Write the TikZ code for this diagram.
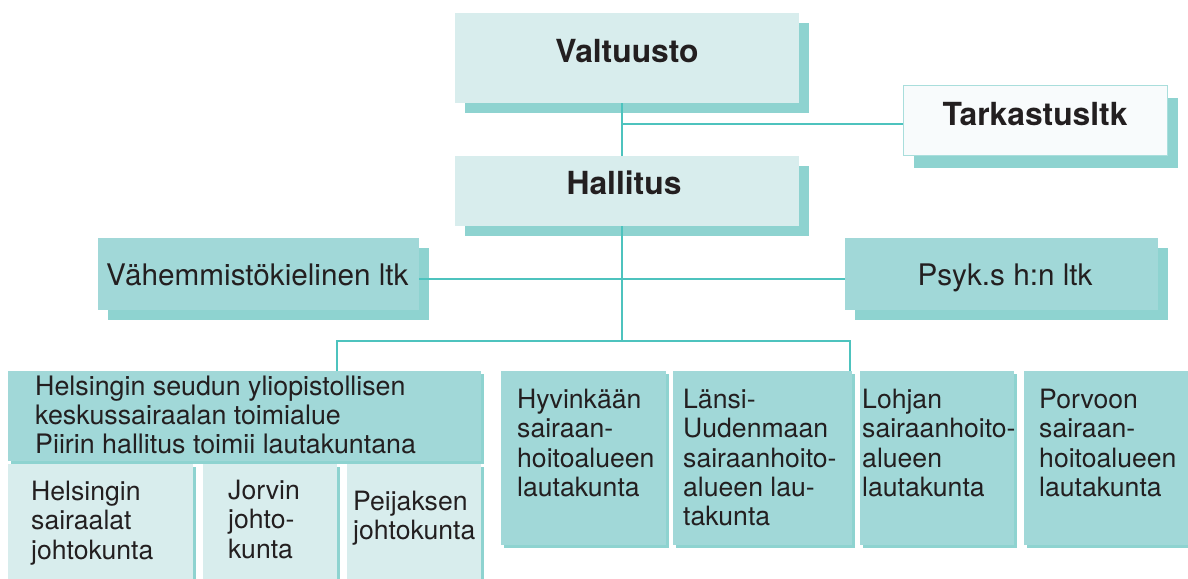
\documentclass[tikz,border=0pt]{standalone}
\usepackage{fontspec}
\setmainfont{TeX Gyre Heros}
\usetikzlibrary{shadows}
\definecolor{lightfill}{HTML}{D8EDED}
\definecolor{darkfill}{HTML}{A1D8D8}
\definecolor{shadowc}{HTML}{8ED3D0}
\definecolor{linec}{HTML}{4DC3BE}
\definecolor{tarkfill}{HTML}{F8FBFC}
\definecolor{tarkborder}{HTML}{A9DEDC}
\definecolor{textc}{HTML}{231F20}
\begin{document}
\begin{tikzpicture}[x=1pt,y=-1pt,
  bx/.style 2 args={rectangle,anchor=north west,inner sep=0pt,outer sep=0pt,
    minimum width=#1,minimum height=#2},
  bigshadow/.style={drop shadow={shadow xshift=10pt,shadow yshift=-10pt,fill=shadowc,opacity=1}},
  smallshadow/.style={drop shadow={shadow xshift=2.5pt,shadow yshift=-2.5pt,fill=shadowc,opacity=1}},
  lightbox/.style={fill=lightfill},
  darkbox/.style={fill=darkfill},
  conn/.style={draw=linec,line width=1.3pt},
  boldlbl/.style={inner sep=0pt,text=textc,font=\fontsize{31.8}{36}\selectfont\bfseries},
  midlbl/.style={inner sep=0pt,text=textc,font=\fontsize{29.7}{34}\selectfont},
  smalllbl/.style={inner sep=0pt,text=textc,anchor=north west,align=left,font=\fontsize{26.6}{29.3}\selectfont}
]
\useasboundingbox (0,0) rectangle (1188,578);

% top boxes
\node[bx={344pt}{90pt},lightbox,bigshadow] (valt) at (455,13) {};
\node[bx={344pt}{70pt},lightbox,bigshadow] (hall) at (455,156) {};
\node[bx={264pt}{70pt},fill=tarkfill,draw=tarkborder,line width=1pt,
  drop shadow={shadow xshift=11pt,shadow yshift=-13pt,fill=shadowc,opacity=1}] (tark) at (903,85) {};
\node[bx={321pt}{72pt},darkbox,bigshadow] (vah) at (98,238) {};
\node[bx={313pt}{72pt},darkbox,bigshadow] (psyk) at (845,238) {};

% bottom row
\node[bx={473pt}{90pt},darkbox,smallshadow] (hels) at (8,371) {};
\node[bx={185pt}{115pt},lightbox,smallshadow] (hsair) at (8,464) {};
\node[bx={134pt}{115pt},lightbox,smallshadow] (jorvi) at (203,464) {};
\node[bx={134pt}{115pt},lightbox,smallshadow] (peija) at (347,464) {};
\node[bx={165pt}{174pt},darkbox,smallshadow] (hyvi) at (501,371) {};
\node[bx={179pt}{174pt},darkbox,smallshadow] (lansi) at (673,371) {};
\node[bx={154pt}{174pt},darkbox,smallshadow] (lohja) at (860,371) {};
\node[bx={170pt}{174pt},darkbox,smallshadow] (porvo) at (1024,371) {};

% labels
\node[boldlbl,anchor=base] (tvalt) at (627,63) {Valtuusto};
\node[boldlbl,anchor=base] (thall) at (624,194) {Hallitus};
\node[boldlbl,anchor=base] (ttark) at (1035,125) {Tarkastusltk};
\node[midlbl,anchor=base west] (tvah) at (106,285) {Vähemmistökielinen ltk};
\node[midlbl,anchor=base] (tpsyk) at (1005,285) {Psyk.s h:n ltk};

\node[smalllbl,font=\fontsize{26.8}{29}\selectfont] (thels) at (35,375.8)
  {Helsingin seudun yliopistollisen\\keskussairaalan toimialue\\Piirin hallitus toimii lautakuntana};
\node[smalllbl] (thsair) at (31,481) {Helsingin\\sairaalat\\johtokunta};
\node[smalllbl] (tjorvi) at (228,480) {Jorvin\\johto-\\kunta};
\node[smalllbl] (tpeija) at (353,491) {Peijaksen\\johtokunta};
\node[smalllbl] (thyvi) at (517,389) {Hyvinkään\\sairaan-\\hoitoalueen\\lautakunta};
\node[smalllbl] (tlansi) at (683,389) {Länsi-\\Uudenmaan\\sairaanhoito-\\alueen lau-\\takunta};
\node[smalllbl] (tlohja) at (862,389) {Lohjan\\sairaanhoito-\\alueen\\lautakunta};
\node[smalllbl] (tporvo) at (1039,389) {Porvoon\\sairaan-\\hoitoalueen\\lautakunta};

% connectors
\coordinate (trunk) at (622,0);
\coordinate (tj) at (622,124);
\coordinate (mid) at (622,279);
\coordinate (barL) at (337,341);
\coordinate (barR) at (850,341);
\draw[conn] (valt.south -| trunk) -- (hall.north -| trunk);
\draw[conn] (tj) -- (tj -| tark.west);
\draw[conn] (hall.south -| trunk) -- (trunk |- barL);
\draw[conn] (mid -| vah.east) -- (mid -| psyk.west);
\draw[conn] (barL |- hels.north) -- (barL) -- (barR) -- (barR |- lansi.north);
\end{tikzpicture}
\end{document}
